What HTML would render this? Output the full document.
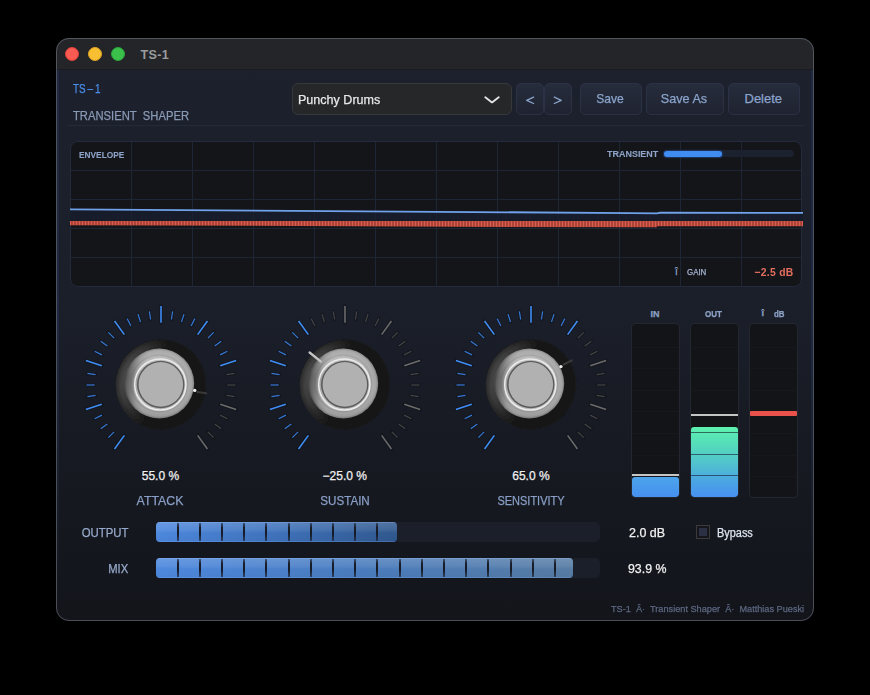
<!DOCTYPE html>
<html><head><meta charset="utf-8"><style>
*{box-sizing:border-box}
html,body{margin:0;padding:0;background:#000;width:870px;height:695px;overflow:hidden;font-family:"Liberation Sans", sans-serif}
.abs{position:absolute}
.t{position:absolute;white-space:nowrap;line-height:1;-webkit-text-stroke:0.25px currentColor}
.btn{position:absolute;top:83px;height:32px;border-radius:5px;border:1px solid #2c3245;background:linear-gradient(180deg,#272c3c 0%,#1f2331 100%)}
.meter{position:absolute;top:323px;height:175px;width:49px;border-radius:4px;background:#121418;border:1px solid #23272f;overflow:hidden}
</style></head><body>
<div class="abs" style="left:56px;top:38px;width:758px;height:583px;border-radius:13px;overflow:hidden;background:linear-gradient(180deg,#1c212d 0%,#1b1f2a 45%,#15181f 80%,#13151b 100%);">
 <div class="abs" style="left:0;top:0;width:758px;height:32px;background:#232528;border-bottom:1px solid #1b1c1e"></div>
 <div class="abs" style="left:1px;top:32px;width:2px;height:520px;background:linear-gradient(180deg,#1f2a42 0%,#1e2840 50%,rgba(30,40,64,0) 100%)"></div>
 <div class="abs" style="right:1px;top:32px;width:2px;height:520px;background:linear-gradient(180deg,#1f2a42 0%,#1e2840 50%,rgba(30,40,64,0) 100%)"></div>
</div>
<div class="abs" style="left:56px;top:38px;width:758px;height:583px;border-radius:13px;border:1px solid rgba(120,125,135,0.55)"></div>
<div class="abs" style="left:65px;top:47px;width:14px;height:14px;border-radius:50%;background:#fb5a52;border:1px solid #e0403a"></div>
<div class="abs" style="left:88px;top:47px;width:14px;height:14px;border-radius:50%;background:#f7bf31;border:1px solid #dfa226"></div>
<div class="abs" style="left:111px;top:47px;width:14px;height:14px;border-radius:50%;background:#3cc04c;border:1px solid #2aa63a"></div>
<div class="t" style="top:49px;font-size:12.6px;color:#9a9b9d;font-weight:bold;letter-spacing:0.35px;left:140.5px;transform-origin:0 50%;-webkit-text-stroke:0;">TS-1</div>
<div class="t" style="top:83px;font-size:12.5px;color:#4a8fec;left:73px;transform-origin:0 50%;transform:scaleX(0.79);">TS<span style="letter-spacing:0">&#8201;</span>&#8211;&#8201;1</div>
<div class="t" style="top:110px;font-size:12.5px;color:#8a9ab6;left:73px;transform-origin:0 50%;transform:scaleX(0.898);">TRANSIENT&nbsp; SHAPER</div>
<div class="abs" style="left:68px;top:125px;width:736px;height:1px;background:#232a37"></div>
<div class="abs" style="left:292px;top:83px;width:220px;height:32px;border-radius:6px;background:#262729;border:1px solid #36383c"></div>
<div class="t" style="top:92.5px;font-size:13px;color:#e8e8e8;left:298px;transform-origin:0 50%;transform:scaleX(0.965);">Punchy Drums</div>
<svg class="abs" style="left:484px;top:95px" width="16" height="10" viewBox="0 0 16 10"><polyline points="1.3,2.3 8,7.4 14.7,2.3" fill="none" stroke="#e4e4e4" stroke-width="1.9" stroke-linecap="round" stroke-linejoin="round"/></svg>
<div class="btn" style="left:516px;width:28px"></div>
<div class="btn" style="left:544px;width:28px"></div>
<div class="btn" style="left:580px;width:62px"></div>
<div class="btn" style="left:646px;width:78px"></div>
<div class="btn" style="left:728px;width:72px"></div>
<svg class="abs" style="left:520px;top:90px" width="50" height="20"><polyline points="13.6,7.1 6.7,10.3 13.6,13.5" fill="none" stroke="#8aa4cc" stroke-width="1.3" stroke-linejoin="round" stroke-linecap="round"/><polyline points="34.3,7.1 41.2,10.3 34.3,13.5" fill="none" stroke="#8aa4cc" stroke-width="1.3" stroke-linejoin="round" stroke-linecap="round"/></svg>
<div class="t" style="top:92px;font-size:13px;color:#8aa4cc;left:409.79999999999995px;width:400px;text-align:center;transform-origin:50% 50%;transform:scaleX(0.93);">Save</div>
<div class="t" style="top:92px;font-size:13px;color:#8aa4cc;left:484.0px;width:400px;text-align:center;transform-origin:50% 50%;transform:scaleX(0.97);">Save As</div>
<div class="t" style="top:92px;font-size:13px;color:#8aa4cc;left:563.3px;width:400px;text-align:center;transform-origin:50% 50%;">Delete</div>
<div class="abs" style="left:70px;top:141px;width:732px;height:146px;border-radius:8px;background:#141519;border:1px solid #222a3b;overflow:hidden">
<svg class="abs" style="left:-1px;top:-1px" width="732" height="146"><line x1="61.5" y1="0" x2="61.5" y2="146" stroke="#1e2535" stroke-width="1"/>
<line x1="122.5" y1="0" x2="122.5" y2="146" stroke="#1e2535" stroke-width="1"/>
<line x1="183.5" y1="0" x2="183.5" y2="146" stroke="#1e2535" stroke-width="1"/>
<line x1="244.5" y1="0" x2="244.5" y2="146" stroke="#1e2535" stroke-width="1"/>
<line x1="305.5" y1="0" x2="305.5" y2="146" stroke="#1e2535" stroke-width="1"/>
<line x1="366.5" y1="0" x2="366.5" y2="146" stroke="#1e2535" stroke-width="1"/>
<line x1="427.5" y1="0" x2="427.5" y2="146" stroke="#1e2535" stroke-width="1"/>
<line x1="488.5" y1="0" x2="488.5" y2="146" stroke="#1e2535" stroke-width="1"/>
<line x1="549.5" y1="0" x2="549.5" y2="146" stroke="#1e2535" stroke-width="1"/>
<line x1="610.5" y1="0" x2="610.5" y2="146" stroke="#1e2535" stroke-width="1"/>
<line x1="671.5" y1="0" x2="671.5" y2="146" stroke="#1e2535" stroke-width="1"/>
<line x1="0" y1="29.5" x2="732" y2="29.5" stroke="#1e2535" stroke-width="1"/>
<line x1="0" y1="58.5" x2="732" y2="58.5" stroke="#1e2535" stroke-width="1"/>
<line x1="0" y1="87.5" x2="732" y2="87.5" stroke="#1e2535" stroke-width="1"/>
<line x1="0" y1="116.5" x2="732" y2="116.5" stroke="#1e2535" stroke-width="1"/></svg>
</div>
<svg class="abs" style="left:0;top:0" width="870" height="300">
<defs><pattern id="hatch" x="0" width="3" height="10" patternUnits="userSpaceOnUse"><rect width="3" height="10" fill="#ad4439"/><rect x="1" width="1" height="10" fill="#dc5c4b"/></pattern></defs>
<polygon points="70,210.2 657,214.1 657,213.5 803,213.8 803,221 70,221" fill="#161c2a"/>
<polygon points="70,221 803,221 803,226.2 657,226.2 657,227.2 500,227 300,226 70,225.2" fill="url(#hatch)"/>
<g stroke="#1e2535" stroke-opacity="0.6" stroke-width="1"><line x1="131.5" y1="211" x2="131.5" y2="221"/><line x1="192.5" y1="211" x2="192.5" y2="221"/><line x1="253.5" y1="211" x2="253.5" y2="221"/><line x1="314.5" y1="211" x2="314.5" y2="221"/><line x1="375.5" y1="211" x2="375.5" y2="221"/><line x1="436.5" y1="211" x2="436.5" y2="221"/><line x1="497.5" y1="211" x2="497.5" y2="221"/><line x1="558.5" y1="211" x2="558.5" y2="221"/><line x1="619.5" y1="211" x2="619.5" y2="221"/><line x1="680.5" y1="211" x2="680.5" y2="221"/><line x1="741.5" y1="211" x2="741.5" y2="221"/></g>
<polyline points="70,209.3 630,213.1 657,213.3 660,212.7 803,212.9" fill="none" stroke="#70a2ec" stroke-width="1.8"/>
</svg>
<div class="t" style="top:150.3px;font-size:9.6px;color:#8da2c6;font-weight:bold;left:78.5px;transform-origin:0 50%;transform:scaleX(0.868);-webkit-text-stroke:0.1px currentColor;">ENVELOPE</div>
<div class="t" style="top:149.2px;font-size:9.8px;color:#8da2c6;font-weight:bold;left:607px;transform-origin:0 50%;transform:scaleX(0.915);-webkit-text-stroke:0.1px currentColor;">TRANSIENT</div>
<div class="abs" style="left:663px;top:150px;width:131px;height:7px;border-radius:4px;background:#1c2130"></div>
<div class="abs" style="left:664px;top:151px;width:58px;height:6px;border-radius:3px;background:#3f8cf2;box-shadow:0 0 0 1px rgba(30,50,90,0.9),0 0 3px rgba(60,140,240,0.4)"></div>
<div class="t" style="top:267px;font-size:10px;color:#8da2c6;left:675px;transform-origin:0 50%;">&#238;</div>
<div class="t" style="top:268px;font-size:8.5px;color:#a5b5d0;left:687.2px;transform-origin:0 50%;transform:scaleX(0.93);">GAIN</div>
<div class="t" style="top:267px;font-size:11px;color:#e66e5f;font-weight:bold;letter-spacing:0.3px;right:76px;transform-origin:100% 50%;transform:scaleX(0.94);-webkit-text-stroke:0;">&#8722;2.5 dB</div>
<svg style="position:absolute;left:70.5px;top:295.0px" width="180" height="180" viewBox="0 0 180 180">
<defs>
<radialGradient id="dd1" cx="0.5" cy="0.5" r="0.5">
<stop offset="0.86" stop-color="#191919"/><stop offset="0.96" stop-color="#171717"/><stop offset="1" stop-color="#18191c" stop-opacity="0"/>
</radialGradient>
<linearGradient id="dl1" x1="0" y1="0.3" x2="1" y2="0.6">
<stop offset="0" stop-color="#3e3e3e" stop-opacity="1"/><stop offset="0.25" stop-color="#2e2e2e" stop-opacity="0.7"/><stop offset="0.5" stop-color="#151515" stop-opacity="0"/>
</linearGradient>
<radialGradient id="ao1" cx="0.5" cy="0.5" r="0.5">
<stop offset="0.7" stop-color="#000" stop-opacity="0.5"/><stop offset="0.85" stop-color="#000" stop-opacity="0.15"/><stop offset="1" stop-color="#000" stop-opacity="0"/>
</radialGradient>
<radialGradient id="mr1" cx="0.5" cy="0.5" r="0.5">
<stop offset="0.72" stop-color="#bcbcbc"/><stop offset="0.78" stop-color="#b0b0b0"/><stop offset="0.81" stop-color="#9c9c9c"/><stop offset="0.85" stop-color="#aaaaaa"/><stop offset="0.94" stop-color="#a2a2a2"/><stop offset="1" stop-color="#7c7c7c"/>
</radialGradient>
<linearGradient id="ml1" x1="0" y1="0.45" x2="1" y2="0.55">
<stop offset="0" stop-color="#000" stop-opacity="0.5"/><stop offset="0.1" stop-color="#000" stop-opacity="0.3"/><stop offset="0.2" stop-color="#000" stop-opacity="0.08"/><stop offset="0.3" stop-color="#000" stop-opacity="0"/>
</linearGradient>
<linearGradient id="mt1" x1="0" y1="0" x2="0" y2="1">
<stop offset="0" stop-color="#fff" stop-opacity="0.10"/><stop offset="0.4" stop-color="#fff" stop-opacity="0"/><stop offset="1" stop-color="#000" stop-opacity="0.06"/>
</linearGradient>
<radialGradient id="lc1" cx="0.5" cy="0.5" r="0.5">
<stop offset="0.78" stop-color="#5a5a5a"/><stop offset="0.9" stop-color="#454545"/><stop offset="1" stop-color="#2c2c2c"/>
</radialGradient>
<linearGradient id="lmg1" x1="0" y1="0.35" x2="1" y2="0.65">
<stop offset="0" stop-color="#fff" stop-opacity="1"/><stop offset="0.3" stop-color="#fff" stop-opacity="0.85"/><stop offset="0.47" stop-color="#fff" stop-opacity="0"/>
</linearGradient>
<mask id="lm1"><rect x="0" y="0" width="180" height="180" fill="url(#lmg1)"/></mask>
<radialGradient id="dr1" cx="0.5" cy="0.5" r="0.5">
<stop offset="0.85" stop-color="#6a6a6a"/><stop offset="0.93" stop-color="#4e4e4e"/><stop offset="1" stop-color="#6a6a6a"/>
</radialGradient>
<filter id="bl1" x="-10%" y="-10%" width="120%" height="120%"><feGaussianBlur stdDeviation="0.7"/></filter>
<filter id="bs1" x="-10%" y="-10%" width="120%" height="120%"><feGaussianBlur stdDeviation="1.1"/></filter>
</defs>
<line x1="53.38" y1="140.40" x2="43.56" y2="153.91" stroke="#0c0e13" stroke-opacity="0.4" stroke-width="3.6" stroke-linecap="round"/>
<line x1="53.38" y1="140.40" x2="43.56" y2="153.91" stroke="#3f8df4" stroke-width="1.6" stroke-linecap="butt"/>
<line x1="43.12" y1="136.88" x2="37.32" y2="142.68" stroke="#0c0e13" stroke-opacity="0.4" stroke-width="3.2" stroke-linecap="round"/>
<line x1="43.12" y1="136.88" x2="37.32" y2="142.68" stroke="#3679d6" stroke-width="1.2" stroke-linecap="butt"/>
<line x1="36.36" y1="128.97" x2="29.73" y2="133.79" stroke="#0c0e13" stroke-opacity="0.4" stroke-width="3.2" stroke-linecap="round"/>
<line x1="36.36" y1="128.97" x2="29.73" y2="133.79" stroke="#3679d6" stroke-width="1.2" stroke-linecap="butt"/>
<line x1="30.93" y1="120.10" x2="23.62" y2="123.82" stroke="#0c0e13" stroke-opacity="0.4" stroke-width="3.2" stroke-linecap="round"/>
<line x1="30.93" y1="120.10" x2="23.62" y2="123.82" stroke="#3679d6" stroke-width="1.2" stroke-linecap="butt"/>
<line x1="30.75" y1="109.25" x2="14.87" y2="114.41" stroke="#0c0e13" stroke-opacity="0.4" stroke-width="3.6" stroke-linecap="round"/>
<line x1="30.75" y1="109.25" x2="14.87" y2="114.41" stroke="#3f8df4" stroke-width="1.6" stroke-linecap="butt"/>
<line x1="24.52" y1="100.37" x2="16.42" y2="101.65" stroke="#0c0e13" stroke-opacity="0.4" stroke-width="3.2" stroke-linecap="round"/>
<line x1="24.52" y1="100.37" x2="16.42" y2="101.65" stroke="#3679d6" stroke-width="1.2" stroke-linecap="butt"/>
<line x1="23.70" y1="90.00" x2="15.50" y2="90.00" stroke="#0c0e13" stroke-opacity="0.4" stroke-width="3.2" stroke-linecap="round"/>
<line x1="23.70" y1="90.00" x2="15.50" y2="90.00" stroke="#3679d6" stroke-width="1.2" stroke-linecap="butt"/>
<line x1="24.52" y1="79.63" x2="16.42" y2="78.35" stroke="#0c0e13" stroke-opacity="0.4" stroke-width="3.2" stroke-linecap="round"/>
<line x1="24.52" y1="79.63" x2="16.42" y2="78.35" stroke="#3679d6" stroke-width="1.2" stroke-linecap="butt"/>
<line x1="30.75" y1="70.75" x2="14.87" y2="65.59" stroke="#0c0e13" stroke-opacity="0.4" stroke-width="3.6" stroke-linecap="round"/>
<line x1="30.75" y1="70.75" x2="14.87" y2="65.59" stroke="#3f8df4" stroke-width="1.6" stroke-linecap="butt"/>
<line x1="30.93" y1="59.90" x2="23.62" y2="56.18" stroke="#0c0e13" stroke-opacity="0.4" stroke-width="3.2" stroke-linecap="round"/>
<line x1="30.93" y1="59.90" x2="23.62" y2="56.18" stroke="#3679d6" stroke-width="1.2" stroke-linecap="butt"/>
<line x1="36.36" y1="51.03" x2="29.73" y2="46.21" stroke="#0c0e13" stroke-opacity="0.4" stroke-width="3.2" stroke-linecap="round"/>
<line x1="36.36" y1="51.03" x2="29.73" y2="46.21" stroke="#3679d6" stroke-width="1.2" stroke-linecap="butt"/>
<line x1="43.12" y1="43.12" x2="37.32" y2="37.32" stroke="#0c0e13" stroke-opacity="0.4" stroke-width="3.2" stroke-linecap="round"/>
<line x1="43.12" y1="43.12" x2="37.32" y2="37.32" stroke="#3679d6" stroke-width="1.2" stroke-linecap="butt"/>
<line x1="53.38" y1="39.60" x2="43.56" y2="26.09" stroke="#0c0e13" stroke-opacity="0.4" stroke-width="3.6" stroke-linecap="round"/>
<line x1="53.38" y1="39.60" x2="43.56" y2="26.09" stroke="#3f8df4" stroke-width="1.6" stroke-linecap="butt"/>
<line x1="59.90" y1="30.93" x2="56.18" y2="23.62" stroke="#0c0e13" stroke-opacity="0.4" stroke-width="3.2" stroke-linecap="round"/>
<line x1="59.90" y1="30.93" x2="56.18" y2="23.62" stroke="#3679d6" stroke-width="1.2" stroke-linecap="butt"/>
<line x1="69.51" y1="26.94" x2="66.98" y2="19.15" stroke="#0c0e13" stroke-opacity="0.4" stroke-width="3.2" stroke-linecap="round"/>
<line x1="69.51" y1="26.94" x2="66.98" y2="19.15" stroke="#3679d6" stroke-width="1.2" stroke-linecap="butt"/>
<line x1="79.63" y1="24.52" x2="78.35" y2="16.42" stroke="#0c0e13" stroke-opacity="0.4" stroke-width="3.2" stroke-linecap="round"/>
<line x1="79.63" y1="24.52" x2="78.35" y2="16.42" stroke="#3679d6" stroke-width="1.2" stroke-linecap="butt"/>
<line x1="90.00" y1="27.70" x2="90.00" y2="11.00" stroke="#0c0e13" stroke-opacity="0.4" stroke-width="3.6" stroke-linecap="round"/>
<line x1="90.00" y1="27.70" x2="90.00" y2="11.00" stroke="#3f8df4" stroke-width="1.6" stroke-linecap="butt"/>
<line x1="100.37" y1="24.52" x2="101.65" y2="16.42" stroke="#0c0e13" stroke-opacity="0.4" stroke-width="3.2" stroke-linecap="round"/>
<line x1="100.37" y1="24.52" x2="101.65" y2="16.42" stroke="#3679d6" stroke-width="1.2" stroke-linecap="butt"/>
<line x1="110.49" y1="26.94" x2="113.02" y2="19.15" stroke="#0c0e13" stroke-opacity="0.4" stroke-width="3.2" stroke-linecap="round"/>
<line x1="110.49" y1="26.94" x2="113.02" y2="19.15" stroke="#3679d6" stroke-width="1.2" stroke-linecap="butt"/>
<line x1="120.10" y1="30.93" x2="123.82" y2="23.62" stroke="#0c0e13" stroke-opacity="0.4" stroke-width="3.2" stroke-linecap="round"/>
<line x1="120.10" y1="30.93" x2="123.82" y2="23.62" stroke="#3679d6" stroke-width="1.2" stroke-linecap="butt"/>
<line x1="126.62" y1="39.60" x2="136.44" y2="26.09" stroke="#0c0e13" stroke-opacity="0.4" stroke-width="3.6" stroke-linecap="round"/>
<line x1="126.62" y1="39.60" x2="136.44" y2="26.09" stroke="#3f8df4" stroke-width="1.6" stroke-linecap="butt"/>
<line x1="136.88" y1="43.12" x2="142.68" y2="37.32" stroke="#0c0e13" stroke-opacity="0.4" stroke-width="3.2" stroke-linecap="round"/>
<line x1="136.88" y1="43.12" x2="142.68" y2="37.32" stroke="#3679d6" stroke-width="1.2" stroke-linecap="butt"/>
<line x1="143.64" y1="51.03" x2="150.27" y2="46.21" stroke="#0c0e13" stroke-opacity="0.4" stroke-width="3.2" stroke-linecap="round"/>
<line x1="143.64" y1="51.03" x2="150.27" y2="46.21" stroke="#3679d6" stroke-width="1.2" stroke-linecap="butt"/>
<line x1="149.07" y1="59.90" x2="156.38" y2="56.18" stroke="#0c0e13" stroke-opacity="0.4" stroke-width="3.2" stroke-linecap="round"/>
<line x1="149.07" y1="59.90" x2="156.38" y2="56.18" stroke="#3679d6" stroke-width="1.2" stroke-linecap="butt"/>
<line x1="149.25" y1="70.75" x2="165.13" y2="65.59" stroke="#0c0e13" stroke-opacity="0.4" stroke-width="3.6" stroke-linecap="round"/>
<line x1="149.25" y1="70.75" x2="165.13" y2="65.59" stroke="#3f8df4" stroke-width="1.6" stroke-linecap="butt"/>
<line x1="155.48" y1="79.63" x2="163.58" y2="78.35" stroke="#0c0e13" stroke-opacity="0.4" stroke-width="3.2" stroke-linecap="round"/>
<line x1="155.48" y1="79.63" x2="163.58" y2="78.35" stroke="#454545" stroke-width="1.2" stroke-linecap="butt"/>
<line x1="156.30" y1="90.00" x2="164.50" y2="90.00" stroke="#0c0e13" stroke-opacity="0.4" stroke-width="3.2" stroke-linecap="round"/>
<line x1="156.30" y1="90.00" x2="164.50" y2="90.00" stroke="#454545" stroke-width="1.2" stroke-linecap="butt"/>
<line x1="155.48" y1="100.37" x2="163.58" y2="101.65" stroke="#0c0e13" stroke-opacity="0.4" stroke-width="3.2" stroke-linecap="round"/>
<line x1="155.48" y1="100.37" x2="163.58" y2="101.65" stroke="#454545" stroke-width="1.2" stroke-linecap="butt"/>
<line x1="149.25" y1="109.25" x2="165.13" y2="114.41" stroke="#0c0e13" stroke-opacity="0.4" stroke-width="3.6" stroke-linecap="round"/>
<line x1="149.25" y1="109.25" x2="165.13" y2="114.41" stroke="#6b6b6b" stroke-width="1.6" stroke-linecap="butt"/>
<line x1="149.07" y1="120.10" x2="156.38" y2="123.82" stroke="#0c0e13" stroke-opacity="0.4" stroke-width="3.2" stroke-linecap="round"/>
<line x1="149.07" y1="120.10" x2="156.38" y2="123.82" stroke="#454545" stroke-width="1.2" stroke-linecap="butt"/>
<line x1="143.64" y1="128.97" x2="150.27" y2="133.79" stroke="#0c0e13" stroke-opacity="0.4" stroke-width="3.2" stroke-linecap="round"/>
<line x1="143.64" y1="128.97" x2="150.27" y2="133.79" stroke="#454545" stroke-width="1.2" stroke-linecap="butt"/>
<line x1="136.88" y1="136.88" x2="142.68" y2="142.68" stroke="#0c0e13" stroke-opacity="0.4" stroke-width="3.2" stroke-linecap="round"/>
<line x1="136.88" y1="136.88" x2="142.68" y2="142.68" stroke="#454545" stroke-width="1.2" stroke-linecap="butt"/>
<line x1="126.62" y1="140.40" x2="136.44" y2="153.91" stroke="#0c0e13" stroke-opacity="0.4" stroke-width="3.6" stroke-linecap="round"/>
<line x1="126.62" y1="140.40" x2="136.44" y2="153.91" stroke="#6b6b6b" stroke-width="1.6" stroke-linecap="butt"/>
<g filter="url(#bl1)">
<circle cx="90.0" cy="89.5" r="46" fill="url(#dd1)"/>
<circle cx="90.0" cy="90.0" r="45.3" fill="url(#lc1)" mask="url(#lm1)"/>
<circle cx="89.3" cy="89.5" r="39" fill="url(#ao1)"/>
</g>
<g filter="url(#bl1)">
<circle cx="88.3" cy="88.5" r="34.9" fill="url(#mr1)"/>
<circle cx="88.3" cy="88.5" r="34.9" fill="url(#ml1)"/>
<circle cx="88.3" cy="88.5" r="34.9" fill="url(#mt1)"/>
</g>
<circle cx="89.3" cy="89.5" r="25.6" fill="none" stroke="#ebebeb" stroke-width="1.5"/>
<circle cx="89.7" cy="89.5" r="23.8" fill="url(#dr1)"/>
<circle cx="89.8" cy="89.4" r="22.3" fill="#b1b1b1"/>
<line x1="126.30" y1="96.90" x2="135.20" y2="98.30" stroke="#3a3a3a" stroke-width="2" stroke-linecap="round"/>
<circle cx="123.70" cy="95.40" r="1.7" fill="#eeeeee"/>
</svg>
<svg style="position:absolute;left:255.0px;top:295.0px" width="180" height="180" viewBox="0 0 180 180">
<defs>
<radialGradient id="dd2" cx="0.5" cy="0.5" r="0.5">
<stop offset="0.86" stop-color="#191919"/><stop offset="0.96" stop-color="#171717"/><stop offset="1" stop-color="#18191c" stop-opacity="0"/>
</radialGradient>
<linearGradient id="dl2" x1="0" y1="0.3" x2="1" y2="0.6">
<stop offset="0" stop-color="#3e3e3e" stop-opacity="1"/><stop offset="0.25" stop-color="#2e2e2e" stop-opacity="0.7"/><stop offset="0.5" stop-color="#151515" stop-opacity="0"/>
</linearGradient>
<radialGradient id="ao2" cx="0.5" cy="0.5" r="0.5">
<stop offset="0.7" stop-color="#000" stop-opacity="0.5"/><stop offset="0.85" stop-color="#000" stop-opacity="0.15"/><stop offset="1" stop-color="#000" stop-opacity="0"/>
</radialGradient>
<radialGradient id="mr2" cx="0.5" cy="0.5" r="0.5">
<stop offset="0.72" stop-color="#bcbcbc"/><stop offset="0.78" stop-color="#b0b0b0"/><stop offset="0.81" stop-color="#9c9c9c"/><stop offset="0.85" stop-color="#aaaaaa"/><stop offset="0.94" stop-color="#a2a2a2"/><stop offset="1" stop-color="#7c7c7c"/>
</radialGradient>
<linearGradient id="ml2" x1="0" y1="0.45" x2="1" y2="0.55">
<stop offset="0" stop-color="#000" stop-opacity="0.5"/><stop offset="0.1" stop-color="#000" stop-opacity="0.3"/><stop offset="0.2" stop-color="#000" stop-opacity="0.08"/><stop offset="0.3" stop-color="#000" stop-opacity="0"/>
</linearGradient>
<linearGradient id="mt2" x1="0" y1="0" x2="0" y2="1">
<stop offset="0" stop-color="#fff" stop-opacity="0.10"/><stop offset="0.4" stop-color="#fff" stop-opacity="0"/><stop offset="1" stop-color="#000" stop-opacity="0.06"/>
</linearGradient>
<radialGradient id="lc2" cx="0.5" cy="0.5" r="0.5">
<stop offset="0.78" stop-color="#5a5a5a"/><stop offset="0.9" stop-color="#454545"/><stop offset="1" stop-color="#2c2c2c"/>
</radialGradient>
<linearGradient id="lmg2" x1="0" y1="0.35" x2="1" y2="0.65">
<stop offset="0" stop-color="#fff" stop-opacity="1"/><stop offset="0.3" stop-color="#fff" stop-opacity="0.85"/><stop offset="0.47" stop-color="#fff" stop-opacity="0"/>
</linearGradient>
<mask id="lm2"><rect x="0" y="0" width="180" height="180" fill="url(#lmg2)"/></mask>
<radialGradient id="dr2" cx="0.5" cy="0.5" r="0.5">
<stop offset="0.85" stop-color="#6a6a6a"/><stop offset="0.93" stop-color="#4e4e4e"/><stop offset="1" stop-color="#6a6a6a"/>
</radialGradient>
<filter id="bl2" x="-10%" y="-10%" width="120%" height="120%"><feGaussianBlur stdDeviation="0.7"/></filter>
<filter id="bs2" x="-10%" y="-10%" width="120%" height="120%"><feGaussianBlur stdDeviation="1.1"/></filter>
</defs>
<line x1="53.38" y1="140.40" x2="43.56" y2="153.91" stroke="#0c0e13" stroke-opacity="0.4" stroke-width="3.6" stroke-linecap="round"/>
<line x1="53.38" y1="140.40" x2="43.56" y2="153.91" stroke="#3f8df4" stroke-width="1.6" stroke-linecap="butt"/>
<line x1="43.12" y1="136.88" x2="37.32" y2="142.68" stroke="#0c0e13" stroke-opacity="0.4" stroke-width="3.2" stroke-linecap="round"/>
<line x1="43.12" y1="136.88" x2="37.32" y2="142.68" stroke="#3679d6" stroke-width="1.2" stroke-linecap="butt"/>
<line x1="36.36" y1="128.97" x2="29.73" y2="133.79" stroke="#0c0e13" stroke-opacity="0.4" stroke-width="3.2" stroke-linecap="round"/>
<line x1="36.36" y1="128.97" x2="29.73" y2="133.79" stroke="#3679d6" stroke-width="1.2" stroke-linecap="butt"/>
<line x1="30.93" y1="120.10" x2="23.62" y2="123.82" stroke="#0c0e13" stroke-opacity="0.4" stroke-width="3.2" stroke-linecap="round"/>
<line x1="30.93" y1="120.10" x2="23.62" y2="123.82" stroke="#3679d6" stroke-width="1.2" stroke-linecap="butt"/>
<line x1="30.75" y1="109.25" x2="14.87" y2="114.41" stroke="#0c0e13" stroke-opacity="0.4" stroke-width="3.6" stroke-linecap="round"/>
<line x1="30.75" y1="109.25" x2="14.87" y2="114.41" stroke="#3f8df4" stroke-width="1.6" stroke-linecap="butt"/>
<line x1="24.52" y1="100.37" x2="16.42" y2="101.65" stroke="#0c0e13" stroke-opacity="0.4" stroke-width="3.2" stroke-linecap="round"/>
<line x1="24.52" y1="100.37" x2="16.42" y2="101.65" stroke="#3679d6" stroke-width="1.2" stroke-linecap="butt"/>
<line x1="23.70" y1="90.00" x2="15.50" y2="90.00" stroke="#0c0e13" stroke-opacity="0.4" stroke-width="3.2" stroke-linecap="round"/>
<line x1="23.70" y1="90.00" x2="15.50" y2="90.00" stroke="#3679d6" stroke-width="1.2" stroke-linecap="butt"/>
<line x1="24.52" y1="79.63" x2="16.42" y2="78.35" stroke="#0c0e13" stroke-opacity="0.4" stroke-width="3.2" stroke-linecap="round"/>
<line x1="24.52" y1="79.63" x2="16.42" y2="78.35" stroke="#3679d6" stroke-width="1.2" stroke-linecap="butt"/>
<line x1="30.75" y1="70.75" x2="14.87" y2="65.59" stroke="#0c0e13" stroke-opacity="0.4" stroke-width="3.6" stroke-linecap="round"/>
<line x1="30.75" y1="70.75" x2="14.87" y2="65.59" stroke="#3f8df4" stroke-width="1.6" stroke-linecap="butt"/>
<line x1="30.93" y1="59.90" x2="23.62" y2="56.18" stroke="#0c0e13" stroke-opacity="0.4" stroke-width="3.2" stroke-linecap="round"/>
<line x1="30.93" y1="59.90" x2="23.62" y2="56.18" stroke="#3679d6" stroke-width="1.2" stroke-linecap="butt"/>
<line x1="36.36" y1="51.03" x2="29.73" y2="46.21" stroke="#0c0e13" stroke-opacity="0.4" stroke-width="3.2" stroke-linecap="round"/>
<line x1="36.36" y1="51.03" x2="29.73" y2="46.21" stroke="#3679d6" stroke-width="1.2" stroke-linecap="butt"/>
<line x1="43.12" y1="43.12" x2="37.32" y2="37.32" stroke="#0c0e13" stroke-opacity="0.4" stroke-width="3.2" stroke-linecap="round"/>
<line x1="43.12" y1="43.12" x2="37.32" y2="37.32" stroke="#3679d6" stroke-width="1.2" stroke-linecap="butt"/>
<line x1="53.38" y1="39.60" x2="43.56" y2="26.09" stroke="#0c0e13" stroke-opacity="0.4" stroke-width="3.6" stroke-linecap="round"/>
<line x1="53.38" y1="39.60" x2="43.56" y2="26.09" stroke="#3f8df4" stroke-width="1.6" stroke-linecap="butt"/>
<line x1="59.90" y1="30.93" x2="56.18" y2="23.62" stroke="#0c0e13" stroke-opacity="0.4" stroke-width="3.2" stroke-linecap="round"/>
<line x1="59.90" y1="30.93" x2="56.18" y2="23.62" stroke="#454545" stroke-width="1.2" stroke-linecap="butt"/>
<line x1="69.51" y1="26.94" x2="66.98" y2="19.15" stroke="#0c0e13" stroke-opacity="0.4" stroke-width="3.2" stroke-linecap="round"/>
<line x1="69.51" y1="26.94" x2="66.98" y2="19.15" stroke="#454545" stroke-width="1.2" stroke-linecap="butt"/>
<line x1="79.63" y1="24.52" x2="78.35" y2="16.42" stroke="#0c0e13" stroke-opacity="0.4" stroke-width="3.2" stroke-linecap="round"/>
<line x1="79.63" y1="24.52" x2="78.35" y2="16.42" stroke="#454545" stroke-width="1.2" stroke-linecap="butt"/>
<line x1="90.00" y1="27.70" x2="90.00" y2="11.00" stroke="#0c0e13" stroke-opacity="0.4" stroke-width="3.6" stroke-linecap="round"/>
<line x1="90.00" y1="27.70" x2="90.00" y2="11.00" stroke="#6b6b6b" stroke-width="1.6" stroke-linecap="butt"/>
<line x1="100.37" y1="24.52" x2="101.65" y2="16.42" stroke="#0c0e13" stroke-opacity="0.4" stroke-width="3.2" stroke-linecap="round"/>
<line x1="100.37" y1="24.52" x2="101.65" y2="16.42" stroke="#454545" stroke-width="1.2" stroke-linecap="butt"/>
<line x1="110.49" y1="26.94" x2="113.02" y2="19.15" stroke="#0c0e13" stroke-opacity="0.4" stroke-width="3.2" stroke-linecap="round"/>
<line x1="110.49" y1="26.94" x2="113.02" y2="19.15" stroke="#454545" stroke-width="1.2" stroke-linecap="butt"/>
<line x1="120.10" y1="30.93" x2="123.82" y2="23.62" stroke="#0c0e13" stroke-opacity="0.4" stroke-width="3.2" stroke-linecap="round"/>
<line x1="120.10" y1="30.93" x2="123.82" y2="23.62" stroke="#454545" stroke-width="1.2" stroke-linecap="butt"/>
<line x1="126.62" y1="39.60" x2="136.44" y2="26.09" stroke="#0c0e13" stroke-opacity="0.4" stroke-width="3.6" stroke-linecap="round"/>
<line x1="126.62" y1="39.60" x2="136.44" y2="26.09" stroke="#6b6b6b" stroke-width="1.6" stroke-linecap="butt"/>
<line x1="136.88" y1="43.12" x2="142.68" y2="37.32" stroke="#0c0e13" stroke-opacity="0.4" stroke-width="3.2" stroke-linecap="round"/>
<line x1="136.88" y1="43.12" x2="142.68" y2="37.32" stroke="#454545" stroke-width="1.2" stroke-linecap="butt"/>
<line x1="143.64" y1="51.03" x2="150.27" y2="46.21" stroke="#0c0e13" stroke-opacity="0.4" stroke-width="3.2" stroke-linecap="round"/>
<line x1="143.64" y1="51.03" x2="150.27" y2="46.21" stroke="#454545" stroke-width="1.2" stroke-linecap="butt"/>
<line x1="149.07" y1="59.90" x2="156.38" y2="56.18" stroke="#0c0e13" stroke-opacity="0.4" stroke-width="3.2" stroke-linecap="round"/>
<line x1="149.07" y1="59.90" x2="156.38" y2="56.18" stroke="#454545" stroke-width="1.2" stroke-linecap="butt"/>
<line x1="149.25" y1="70.75" x2="165.13" y2="65.59" stroke="#0c0e13" stroke-opacity="0.4" stroke-width="3.6" stroke-linecap="round"/>
<line x1="149.25" y1="70.75" x2="165.13" y2="65.59" stroke="#6b6b6b" stroke-width="1.6" stroke-linecap="butt"/>
<line x1="155.48" y1="79.63" x2="163.58" y2="78.35" stroke="#0c0e13" stroke-opacity="0.4" stroke-width="3.2" stroke-linecap="round"/>
<line x1="155.48" y1="79.63" x2="163.58" y2="78.35" stroke="#454545" stroke-width="1.2" stroke-linecap="butt"/>
<line x1="156.30" y1="90.00" x2="164.50" y2="90.00" stroke="#0c0e13" stroke-opacity="0.4" stroke-width="3.2" stroke-linecap="round"/>
<line x1="156.30" y1="90.00" x2="164.50" y2="90.00" stroke="#454545" stroke-width="1.2" stroke-linecap="butt"/>
<line x1="155.48" y1="100.37" x2="163.58" y2="101.65" stroke="#0c0e13" stroke-opacity="0.4" stroke-width="3.2" stroke-linecap="round"/>
<line x1="155.48" y1="100.37" x2="163.58" y2="101.65" stroke="#454545" stroke-width="1.2" stroke-linecap="butt"/>
<line x1="149.25" y1="109.25" x2="165.13" y2="114.41" stroke="#0c0e13" stroke-opacity="0.4" stroke-width="3.6" stroke-linecap="round"/>
<line x1="149.25" y1="109.25" x2="165.13" y2="114.41" stroke="#6b6b6b" stroke-width="1.6" stroke-linecap="butt"/>
<line x1="149.07" y1="120.10" x2="156.38" y2="123.82" stroke="#0c0e13" stroke-opacity="0.4" stroke-width="3.2" stroke-linecap="round"/>
<line x1="149.07" y1="120.10" x2="156.38" y2="123.82" stroke="#454545" stroke-width="1.2" stroke-linecap="butt"/>
<line x1="143.64" y1="128.97" x2="150.27" y2="133.79" stroke="#0c0e13" stroke-opacity="0.4" stroke-width="3.2" stroke-linecap="round"/>
<line x1="143.64" y1="128.97" x2="150.27" y2="133.79" stroke="#454545" stroke-width="1.2" stroke-linecap="butt"/>
<line x1="136.88" y1="136.88" x2="142.68" y2="142.68" stroke="#0c0e13" stroke-opacity="0.4" stroke-width="3.2" stroke-linecap="round"/>
<line x1="136.88" y1="136.88" x2="142.68" y2="142.68" stroke="#454545" stroke-width="1.2" stroke-linecap="butt"/>
<line x1="126.62" y1="140.40" x2="136.44" y2="153.91" stroke="#0c0e13" stroke-opacity="0.4" stroke-width="3.6" stroke-linecap="round"/>
<line x1="126.62" y1="140.40" x2="136.44" y2="153.91" stroke="#6b6b6b" stroke-width="1.6" stroke-linecap="butt"/>
<g filter="url(#bl2)">
<circle cx="90.0" cy="89.5" r="46" fill="url(#dd2)"/>
<circle cx="90.0" cy="90.0" r="45.3" fill="url(#lc2)" mask="url(#lm2)"/>
<circle cx="89.3" cy="89.5" r="39" fill="url(#ao2)"/>
</g>
<g filter="url(#bl2)">
<circle cx="88.3" cy="88.5" r="34.9" fill="url(#mr2)"/>
<circle cx="88.3" cy="88.5" r="34.9" fill="url(#ml2)"/>
<circle cx="88.3" cy="88.5" r="34.9" fill="url(#mt2)"/>
</g>
<circle cx="89.3" cy="89.5" r="25.6" fill="none" stroke="#ebebeb" stroke-width="1.5"/>
<circle cx="89.7" cy="89.5" r="23.8" fill="url(#dr2)"/>
<circle cx="89.8" cy="89.4" r="22.3" fill="#b1b1b1"/>
<line x1="54.60" y1="57.50" x2="65.90" y2="66.60" stroke="#c6c6c6" stroke-width="2.3" stroke-linecap="round"/>
</svg>
<svg style="position:absolute;left:440.5px;top:295.0px" width="180" height="180" viewBox="0 0 180 180">
<defs>
<radialGradient id="dd3" cx="0.5" cy="0.5" r="0.5">
<stop offset="0.86" stop-color="#191919"/><stop offset="0.96" stop-color="#171717"/><stop offset="1" stop-color="#18191c" stop-opacity="0"/>
</radialGradient>
<linearGradient id="dl3" x1="0" y1="0.3" x2="1" y2="0.6">
<stop offset="0" stop-color="#3e3e3e" stop-opacity="1"/><stop offset="0.25" stop-color="#2e2e2e" stop-opacity="0.7"/><stop offset="0.5" stop-color="#151515" stop-opacity="0"/>
</linearGradient>
<radialGradient id="ao3" cx="0.5" cy="0.5" r="0.5">
<stop offset="0.7" stop-color="#000" stop-opacity="0.5"/><stop offset="0.85" stop-color="#000" stop-opacity="0.15"/><stop offset="1" stop-color="#000" stop-opacity="0"/>
</radialGradient>
<radialGradient id="mr3" cx="0.5" cy="0.5" r="0.5">
<stop offset="0.72" stop-color="#bcbcbc"/><stop offset="0.78" stop-color="#b0b0b0"/><stop offset="0.81" stop-color="#9c9c9c"/><stop offset="0.85" stop-color="#aaaaaa"/><stop offset="0.94" stop-color="#a2a2a2"/><stop offset="1" stop-color="#7c7c7c"/>
</radialGradient>
<linearGradient id="ml3" x1="0" y1="0.45" x2="1" y2="0.55">
<stop offset="0" stop-color="#000" stop-opacity="0.5"/><stop offset="0.1" stop-color="#000" stop-opacity="0.3"/><stop offset="0.2" stop-color="#000" stop-opacity="0.08"/><stop offset="0.3" stop-color="#000" stop-opacity="0"/>
</linearGradient>
<linearGradient id="mt3" x1="0" y1="0" x2="0" y2="1">
<stop offset="0" stop-color="#fff" stop-opacity="0.10"/><stop offset="0.4" stop-color="#fff" stop-opacity="0"/><stop offset="1" stop-color="#000" stop-opacity="0.06"/>
</linearGradient>
<radialGradient id="lc3" cx="0.5" cy="0.5" r="0.5">
<stop offset="0.78" stop-color="#5a5a5a"/><stop offset="0.9" stop-color="#454545"/><stop offset="1" stop-color="#2c2c2c"/>
</radialGradient>
<linearGradient id="lmg3" x1="0" y1="0.35" x2="1" y2="0.65">
<stop offset="0" stop-color="#fff" stop-opacity="1"/><stop offset="0.3" stop-color="#fff" stop-opacity="0.85"/><stop offset="0.47" stop-color="#fff" stop-opacity="0"/>
</linearGradient>
<mask id="lm3"><rect x="0" y="0" width="180" height="180" fill="url(#lmg3)"/></mask>
<radialGradient id="dr3" cx="0.5" cy="0.5" r="0.5">
<stop offset="0.85" stop-color="#6a6a6a"/><stop offset="0.93" stop-color="#4e4e4e"/><stop offset="1" stop-color="#6a6a6a"/>
</radialGradient>
<filter id="bl3" x="-10%" y="-10%" width="120%" height="120%"><feGaussianBlur stdDeviation="0.7"/></filter>
<filter id="bs3" x="-10%" y="-10%" width="120%" height="120%"><feGaussianBlur stdDeviation="1.1"/></filter>
</defs>
<line x1="53.38" y1="140.40" x2="43.56" y2="153.91" stroke="#0c0e13" stroke-opacity="0.4" stroke-width="3.6" stroke-linecap="round"/>
<line x1="53.38" y1="140.40" x2="43.56" y2="153.91" stroke="#3f8df4" stroke-width="1.6" stroke-linecap="butt"/>
<line x1="43.12" y1="136.88" x2="37.32" y2="142.68" stroke="#0c0e13" stroke-opacity="0.4" stroke-width="3.2" stroke-linecap="round"/>
<line x1="43.12" y1="136.88" x2="37.32" y2="142.68" stroke="#3679d6" stroke-width="1.2" stroke-linecap="butt"/>
<line x1="36.36" y1="128.97" x2="29.73" y2="133.79" stroke="#0c0e13" stroke-opacity="0.4" stroke-width="3.2" stroke-linecap="round"/>
<line x1="36.36" y1="128.97" x2="29.73" y2="133.79" stroke="#3679d6" stroke-width="1.2" stroke-linecap="butt"/>
<line x1="30.93" y1="120.10" x2="23.62" y2="123.82" stroke="#0c0e13" stroke-opacity="0.4" stroke-width="3.2" stroke-linecap="round"/>
<line x1="30.93" y1="120.10" x2="23.62" y2="123.82" stroke="#3679d6" stroke-width="1.2" stroke-linecap="butt"/>
<line x1="30.75" y1="109.25" x2="14.87" y2="114.41" stroke="#0c0e13" stroke-opacity="0.4" stroke-width="3.6" stroke-linecap="round"/>
<line x1="30.75" y1="109.25" x2="14.87" y2="114.41" stroke="#3f8df4" stroke-width="1.6" stroke-linecap="butt"/>
<line x1="24.52" y1="100.37" x2="16.42" y2="101.65" stroke="#0c0e13" stroke-opacity="0.4" stroke-width="3.2" stroke-linecap="round"/>
<line x1="24.52" y1="100.37" x2="16.42" y2="101.65" stroke="#3679d6" stroke-width="1.2" stroke-linecap="butt"/>
<line x1="23.70" y1="90.00" x2="15.50" y2="90.00" stroke="#0c0e13" stroke-opacity="0.4" stroke-width="3.2" stroke-linecap="round"/>
<line x1="23.70" y1="90.00" x2="15.50" y2="90.00" stroke="#3679d6" stroke-width="1.2" stroke-linecap="butt"/>
<line x1="24.52" y1="79.63" x2="16.42" y2="78.35" stroke="#0c0e13" stroke-opacity="0.4" stroke-width="3.2" stroke-linecap="round"/>
<line x1="24.52" y1="79.63" x2="16.42" y2="78.35" stroke="#3679d6" stroke-width="1.2" stroke-linecap="butt"/>
<line x1="30.75" y1="70.75" x2="14.87" y2="65.59" stroke="#0c0e13" stroke-opacity="0.4" stroke-width="3.6" stroke-linecap="round"/>
<line x1="30.75" y1="70.75" x2="14.87" y2="65.59" stroke="#3f8df4" stroke-width="1.6" stroke-linecap="butt"/>
<line x1="30.93" y1="59.90" x2="23.62" y2="56.18" stroke="#0c0e13" stroke-opacity="0.4" stroke-width="3.2" stroke-linecap="round"/>
<line x1="30.93" y1="59.90" x2="23.62" y2="56.18" stroke="#3679d6" stroke-width="1.2" stroke-linecap="butt"/>
<line x1="36.36" y1="51.03" x2="29.73" y2="46.21" stroke="#0c0e13" stroke-opacity="0.4" stroke-width="3.2" stroke-linecap="round"/>
<line x1="36.36" y1="51.03" x2="29.73" y2="46.21" stroke="#3679d6" stroke-width="1.2" stroke-linecap="butt"/>
<line x1="43.12" y1="43.12" x2="37.32" y2="37.32" stroke="#0c0e13" stroke-opacity="0.4" stroke-width="3.2" stroke-linecap="round"/>
<line x1="43.12" y1="43.12" x2="37.32" y2="37.32" stroke="#3679d6" stroke-width="1.2" stroke-linecap="butt"/>
<line x1="53.38" y1="39.60" x2="43.56" y2="26.09" stroke="#0c0e13" stroke-opacity="0.4" stroke-width="3.6" stroke-linecap="round"/>
<line x1="53.38" y1="39.60" x2="43.56" y2="26.09" stroke="#3f8df4" stroke-width="1.6" stroke-linecap="butt"/>
<line x1="59.90" y1="30.93" x2="56.18" y2="23.62" stroke="#0c0e13" stroke-opacity="0.4" stroke-width="3.2" stroke-linecap="round"/>
<line x1="59.90" y1="30.93" x2="56.18" y2="23.62" stroke="#3679d6" stroke-width="1.2" stroke-linecap="butt"/>
<line x1="69.51" y1="26.94" x2="66.98" y2="19.15" stroke="#0c0e13" stroke-opacity="0.4" stroke-width="3.2" stroke-linecap="round"/>
<line x1="69.51" y1="26.94" x2="66.98" y2="19.15" stroke="#3679d6" stroke-width="1.2" stroke-linecap="butt"/>
<line x1="79.63" y1="24.52" x2="78.35" y2="16.42" stroke="#0c0e13" stroke-opacity="0.4" stroke-width="3.2" stroke-linecap="round"/>
<line x1="79.63" y1="24.52" x2="78.35" y2="16.42" stroke="#3679d6" stroke-width="1.2" stroke-linecap="butt"/>
<line x1="90.00" y1="27.70" x2="90.00" y2="11.00" stroke="#0c0e13" stroke-opacity="0.4" stroke-width="3.6" stroke-linecap="round"/>
<line x1="90.00" y1="27.70" x2="90.00" y2="11.00" stroke="#3f8df4" stroke-width="1.6" stroke-linecap="butt"/>
<line x1="100.37" y1="24.52" x2="101.65" y2="16.42" stroke="#0c0e13" stroke-opacity="0.4" stroke-width="3.2" stroke-linecap="round"/>
<line x1="100.37" y1="24.52" x2="101.65" y2="16.42" stroke="#3679d6" stroke-width="1.2" stroke-linecap="butt"/>
<line x1="110.49" y1="26.94" x2="113.02" y2="19.15" stroke="#0c0e13" stroke-opacity="0.4" stroke-width="3.2" stroke-linecap="round"/>
<line x1="110.49" y1="26.94" x2="113.02" y2="19.15" stroke="#3679d6" stroke-width="1.2" stroke-linecap="butt"/>
<line x1="120.10" y1="30.93" x2="123.82" y2="23.62" stroke="#0c0e13" stroke-opacity="0.4" stroke-width="3.2" stroke-linecap="round"/>
<line x1="120.10" y1="30.93" x2="123.82" y2="23.62" stroke="#3679d6" stroke-width="1.2" stroke-linecap="butt"/>
<line x1="126.62" y1="39.60" x2="136.44" y2="26.09" stroke="#0c0e13" stroke-opacity="0.4" stroke-width="3.6" stroke-linecap="round"/>
<line x1="126.62" y1="39.60" x2="136.44" y2="26.09" stroke="#3f8df4" stroke-width="1.6" stroke-linecap="butt"/>
<line x1="136.88" y1="43.12" x2="142.68" y2="37.32" stroke="#0c0e13" stroke-opacity="0.4" stroke-width="3.2" stroke-linecap="round"/>
<line x1="136.88" y1="43.12" x2="142.68" y2="37.32" stroke="#454545" stroke-width="1.2" stroke-linecap="butt"/>
<line x1="143.64" y1="51.03" x2="150.27" y2="46.21" stroke="#0c0e13" stroke-opacity="0.4" stroke-width="3.2" stroke-linecap="round"/>
<line x1="143.64" y1="51.03" x2="150.27" y2="46.21" stroke="#454545" stroke-width="1.2" stroke-linecap="butt"/>
<line x1="149.07" y1="59.90" x2="156.38" y2="56.18" stroke="#0c0e13" stroke-opacity="0.4" stroke-width="3.2" stroke-linecap="round"/>
<line x1="149.07" y1="59.90" x2="156.38" y2="56.18" stroke="#454545" stroke-width="1.2" stroke-linecap="butt"/>
<line x1="149.25" y1="70.75" x2="165.13" y2="65.59" stroke="#0c0e13" stroke-opacity="0.4" stroke-width="3.6" stroke-linecap="round"/>
<line x1="149.25" y1="70.75" x2="165.13" y2="65.59" stroke="#6b6b6b" stroke-width="1.6" stroke-linecap="butt"/>
<line x1="155.48" y1="79.63" x2="163.58" y2="78.35" stroke="#0c0e13" stroke-opacity="0.4" stroke-width="3.2" stroke-linecap="round"/>
<line x1="155.48" y1="79.63" x2="163.58" y2="78.35" stroke="#454545" stroke-width="1.2" stroke-linecap="butt"/>
<line x1="156.30" y1="90.00" x2="164.50" y2="90.00" stroke="#0c0e13" stroke-opacity="0.4" stroke-width="3.2" stroke-linecap="round"/>
<line x1="156.30" y1="90.00" x2="164.50" y2="90.00" stroke="#454545" stroke-width="1.2" stroke-linecap="butt"/>
<line x1="155.48" y1="100.37" x2="163.58" y2="101.65" stroke="#0c0e13" stroke-opacity="0.4" stroke-width="3.2" stroke-linecap="round"/>
<line x1="155.48" y1="100.37" x2="163.58" y2="101.65" stroke="#454545" stroke-width="1.2" stroke-linecap="butt"/>
<line x1="149.25" y1="109.25" x2="165.13" y2="114.41" stroke="#0c0e13" stroke-opacity="0.4" stroke-width="3.6" stroke-linecap="round"/>
<line x1="149.25" y1="109.25" x2="165.13" y2="114.41" stroke="#6b6b6b" stroke-width="1.6" stroke-linecap="butt"/>
<line x1="149.07" y1="120.10" x2="156.38" y2="123.82" stroke="#0c0e13" stroke-opacity="0.4" stroke-width="3.2" stroke-linecap="round"/>
<line x1="149.07" y1="120.10" x2="156.38" y2="123.82" stroke="#454545" stroke-width="1.2" stroke-linecap="butt"/>
<line x1="143.64" y1="128.97" x2="150.27" y2="133.79" stroke="#0c0e13" stroke-opacity="0.4" stroke-width="3.2" stroke-linecap="round"/>
<line x1="143.64" y1="128.97" x2="150.27" y2="133.79" stroke="#454545" stroke-width="1.2" stroke-linecap="butt"/>
<line x1="136.88" y1="136.88" x2="142.68" y2="142.68" stroke="#0c0e13" stroke-opacity="0.4" stroke-width="3.2" stroke-linecap="round"/>
<line x1="136.88" y1="136.88" x2="142.68" y2="142.68" stroke="#454545" stroke-width="1.2" stroke-linecap="butt"/>
<line x1="126.62" y1="140.40" x2="136.44" y2="153.91" stroke="#0c0e13" stroke-opacity="0.4" stroke-width="3.6" stroke-linecap="round"/>
<line x1="126.62" y1="140.40" x2="136.44" y2="153.91" stroke="#6b6b6b" stroke-width="1.6" stroke-linecap="butt"/>
<g filter="url(#bl3)">
<circle cx="90.0" cy="89.5" r="46" fill="url(#dd3)"/>
<circle cx="90.0" cy="90.0" r="45.3" fill="url(#lc3)" mask="url(#lm3)"/>
<circle cx="89.3" cy="89.5" r="39" fill="url(#ao3)"/>
</g>
<g filter="url(#bl3)">
<circle cx="88.3" cy="88.5" r="34.9" fill="url(#mr3)"/>
<circle cx="88.3" cy="88.5" r="34.9" fill="url(#ml3)"/>
<circle cx="88.3" cy="88.5" r="34.9" fill="url(#mt3)"/>
</g>
<circle cx="89.3" cy="89.5" r="25.6" fill="none" stroke="#ebebeb" stroke-width="1.5"/>
<circle cx="89.7" cy="89.5" r="23.8" fill="url(#dr3)"/>
<circle cx="89.8" cy="89.4" r="22.3" fill="#b1b1b1"/>
<line x1="122.70" y1="69.50" x2="130.90" y2="65.30" stroke="#3a3a3a" stroke-width="2" stroke-linecap="round"/>
<circle cx="119.90" cy="71.60" r="1.7" fill="#eeeeee"/>
</svg>
<div class="t" style="top:470px;font-size:12px;color:#f0f0f0;left:-39.599999999999994px;width:400px;text-align:center;transform-origin:50% 50%;">55.0 %</div>
<div class="t" style="top:470px;font-size:12px;color:#f0f0f0;left:144.8px;width:400px;text-align:center;transform-origin:50% 50%;">&#8722;25.0 %</div>
<div class="t" style="top:470px;font-size:12px;color:#f0f0f0;left:330.9px;width:400px;text-align:center;transform-origin:50% 50%;">65.0 %</div>
<div class="t" style="top:495px;font-size:12.5px;color:#8a9fc6;left:-39.80000000000001px;width:400px;text-align:center;transform-origin:50% 50%;transform:scaleX(0.985);">ATTACK</div>
<div class="t" style="top:495px;font-size:12.5px;color:#8a9fc6;left:144.85000000000002px;width:400px;text-align:center;transform-origin:50% 50%;transform:scaleX(0.93);">SUSTAIN</div>
<div class="t" style="top:495px;font-size:12.5px;color:#8a9fc6;left:330.6px;width:400px;text-align:center;transform-origin:50% 50%;transform:scaleX(0.88);">SENSITIVITY</div>
<div class="t" style="top:310px;font-size:9px;color:#8da2c6;font-weight:bold;left:650.5px;transform-origin:0 50%;">IN</div>
<div class="t" style="top:310px;font-size:9px;color:#8da2c6;font-weight:bold;left:705px;transform-origin:0 50%;transform:scaleX(0.885);">OUT</div>
<div class="t" style="top:309.3px;font-size:9px;color:#8da2c6;font-weight:bold;left:761.6px;transform-origin:0 50%;">&#238;</div>
<div class="t" style="top:310px;font-size:9px;color:#8da2c6;font-weight:bold;left:774px;transform-origin:0 50%;transform:scaleX(0.88);">dB</div>
<div class="meter" style="left:631px"><div class="abs" style="left:0;right:0;top:23px;height:1px;background:#16181e"></div><div class="abs" style="left:0;right:0;top:44px;height:1px;background:#16181e"></div><div class="abs" style="left:0;right:0;top:66px;height:1px;background:#16181e"></div><div class="abs" style="left:0;right:0;top:87px;height:1px;background:#16181e"></div><div class="abs" style="left:0;right:0;top:109px;height:1px;background:#16181e"></div><div class="abs" style="left:0;right:0;top:131px;height:1px;background:#16181e"></div><div class="abs" style="left:0;right:0;top:152px;height:1px;background:#16181e"></div>
 <div class="abs" style="left:0;right:0;top:152.5px;height:20px;border-radius:3px;background:linear-gradient(180deg,#4ca4ea,#4690f1)"></div>
 <div class="abs" style="left:0;right:0;top:149.5px;height:2px;background:linear-gradient(180deg,#aaa,#e0e0e0,#aaa)"></div>
</div>
<div class="meter" style="left:690px"><div class="abs" style="left:0;right:0;top:23px;height:1px;background:#16181e"></div><div class="abs" style="left:0;right:0;top:44px;height:1px;background:#16181e"></div><div class="abs" style="left:0;right:0;top:66px;height:1px;background:#16181e"></div><div class="abs" style="left:0;right:0;top:87px;height:1px;background:#16181e"></div><div class="abs" style="left:0;right:0;top:109px;height:1px;background:#16181e"></div><div class="abs" style="left:0;right:0;top:131px;height:1px;background:#16181e"></div><div class="abs" style="left:0;right:0;top:152px;height:1px;background:#16181e"></div>
 <div class="abs" style="left:0;right:0;top:103px;height:70px;border-radius:3px;background:linear-gradient(180deg,#5df2b0 0%,#55dcba 25%,#52c4cc 50%,#4aa8e0 75%,#4890f2 100%)"></div>
 <div class="abs" style="left:0;right:0;top:108px;height:1px;background:#2f6a5e"></div>
 <div class="abs" style="left:0;right:0;top:130px;height:1px;background:#2e5f6a"></div>
 <div class="abs" style="left:0;right:0;top:151px;height:1px;background:#2c5278"></div>
 <div class="abs" style="left:0;right:0;top:89.5px;height:2px;background:linear-gradient(180deg,#aaa,#e0e0e0,#aaa)"></div>
</div>
<div class="meter" style="left:749px"><div class="abs" style="left:0;right:0;top:23px;height:1px;background:#16181e"></div><div class="abs" style="left:0;right:0;top:44px;height:1px;background:#16181e"></div><div class="abs" style="left:0;right:0;top:66px;height:1px;background:#16181e"></div><div class="abs" style="left:0;right:0;top:87px;height:1px;background:#16181e"></div><div class="abs" style="left:0;right:0;top:109px;height:1px;background:#16181e"></div><div class="abs" style="left:0;right:0;top:131px;height:1px;background:#16181e"></div><div class="abs" style="left:0;right:0;top:152px;height:1px;background:#16181e"></div>
 <div class="abs" style="left:0;right:0;top:87px;height:5px;border-radius:1px;background:#e8524a"></div>
</div>
<div class="t" style="top:527px;font-size:12.5px;color:#97aacb;right:741.6px;transform-origin:100% 50%;transform:scaleX(0.91);">OUTPUT</div>
<div class="t" style="top:563px;font-size:12.5px;color:#97aacb;right:741.6px;transform-origin:100% 50%;transform:scaleX(0.9);">MIX</div>
<div style="position:absolute;left:156px;top:522px;width:444px;height:20px;background:#1b1f2a;border-radius:5px"></div>
<div style="position:absolute;left:156px;top:522px;width:240.5px;height:20px;border-radius:4px;background:linear-gradient(90deg,#4d88de 0%,#3f72bb 50%,#30588e 100%);overflow:hidden">
<div style="position:absolute;inset:0;background:linear-gradient(180deg,rgba(255,255,255,0.16) 0%,rgba(255,255,255,0.08) 40%,rgba(255,255,255,0) 55%,rgba(0,0,0,0.03) 100%)"></div>
<div style="position:absolute;left:0;right:0;top:0;height:1px;background:rgba(160,200,255,0.25)"></div>
<div style="position:absolute;left:0;right:0;bottom:0;height:1px;background:rgba(130,180,255,0.25)"></div>
<div style="position:absolute;left:20.60px;top:1px;width:2px;height:18px;background:linear-gradient(180deg,rgba(24,28,40,0.5) 0%,#1a1e2a 25%,#161a25 60%,rgba(24,28,40,0.6) 100%)"></div><div style="position:absolute;left:42.80px;top:1px;width:2px;height:18px;background:linear-gradient(180deg,rgba(24,28,40,0.5) 0%,#1a1e2a 25%,#161a25 60%,rgba(24,28,40,0.6) 100%)"></div><div style="position:absolute;left:65.00px;top:1px;width:2px;height:18px;background:linear-gradient(180deg,rgba(24,28,40,0.5) 0%,#1a1e2a 25%,#161a25 60%,rgba(24,28,40,0.6) 100%)"></div><div style="position:absolute;left:87.20px;top:1px;width:2px;height:18px;background:linear-gradient(180deg,rgba(24,28,40,0.5) 0%,#1a1e2a 25%,#161a25 60%,rgba(24,28,40,0.6) 100%)"></div><div style="position:absolute;left:109.40px;top:1px;width:2px;height:18px;background:linear-gradient(180deg,rgba(24,28,40,0.5) 0%,#1a1e2a 25%,#161a25 60%,rgba(24,28,40,0.6) 100%)"></div><div style="position:absolute;left:131.60px;top:1px;width:2px;height:18px;background:linear-gradient(180deg,rgba(24,28,40,0.5) 0%,#1a1e2a 25%,#161a25 60%,rgba(24,28,40,0.6) 100%)"></div><div style="position:absolute;left:153.80px;top:1px;width:2px;height:18px;background:linear-gradient(180deg,rgba(24,28,40,0.5) 0%,#1a1e2a 25%,#161a25 60%,rgba(24,28,40,0.6) 100%)"></div><div style="position:absolute;left:176.00px;top:1px;width:2px;height:18px;background:linear-gradient(180deg,rgba(24,28,40,0.5) 0%,#1a1e2a 25%,#161a25 60%,rgba(24,28,40,0.6) 100%)"></div><div style="position:absolute;left:198.20px;top:1px;width:2px;height:18px;background:linear-gradient(180deg,rgba(24,28,40,0.5) 0%,#1a1e2a 25%,#161a25 60%,rgba(24,28,40,0.6) 100%)"></div><div style="position:absolute;left:220.40px;top:1px;width:2px;height:18px;background:linear-gradient(180deg,rgba(24,28,40,0.5) 0%,#1a1e2a 25%,#161a25 60%,rgba(24,28,40,0.6) 100%)"></div>
</div>
<div style="position:absolute;left:156px;top:558px;width:444px;height:20px;background:#1b1f2a;border-radius:5px"></div>
<div style="position:absolute;left:156px;top:558px;width:416.9px;height:20px;border-radius:4px;background:linear-gradient(90deg,#4d88de 0%,#4a7cbd 50%,#577ca4 100%);overflow:hidden">
<div style="position:absolute;inset:0;background:linear-gradient(180deg,rgba(255,255,255,0.16) 0%,rgba(255,255,255,0.08) 40%,rgba(255,255,255,0) 55%,rgba(0,0,0,0.03) 100%)"></div>
<div style="position:absolute;left:0;right:0;top:0;height:1px;background:rgba(160,200,255,0.25)"></div>
<div style="position:absolute;left:0;right:0;bottom:0;height:1px;background:rgba(130,180,255,0.25)"></div>
<div style="position:absolute;left:20.60px;top:1px;width:2px;height:18px;background:linear-gradient(180deg,rgba(24,28,40,0.5) 0%,#1a1e2a 25%,#161a25 60%,rgba(24,28,40,0.6) 100%)"></div><div style="position:absolute;left:42.80px;top:1px;width:2px;height:18px;background:linear-gradient(180deg,rgba(24,28,40,0.5) 0%,#1a1e2a 25%,#161a25 60%,rgba(24,28,40,0.6) 100%)"></div><div style="position:absolute;left:65.00px;top:1px;width:2px;height:18px;background:linear-gradient(180deg,rgba(24,28,40,0.5) 0%,#1a1e2a 25%,#161a25 60%,rgba(24,28,40,0.6) 100%)"></div><div style="position:absolute;left:87.20px;top:1px;width:2px;height:18px;background:linear-gradient(180deg,rgba(24,28,40,0.5) 0%,#1a1e2a 25%,#161a25 60%,rgba(24,28,40,0.6) 100%)"></div><div style="position:absolute;left:109.40px;top:1px;width:2px;height:18px;background:linear-gradient(180deg,rgba(24,28,40,0.5) 0%,#1a1e2a 25%,#161a25 60%,rgba(24,28,40,0.6) 100%)"></div><div style="position:absolute;left:131.60px;top:1px;width:2px;height:18px;background:linear-gradient(180deg,rgba(24,28,40,0.5) 0%,#1a1e2a 25%,#161a25 60%,rgba(24,28,40,0.6) 100%)"></div><div style="position:absolute;left:153.80px;top:1px;width:2px;height:18px;background:linear-gradient(180deg,rgba(24,28,40,0.5) 0%,#1a1e2a 25%,#161a25 60%,rgba(24,28,40,0.6) 100%)"></div><div style="position:absolute;left:176.00px;top:1px;width:2px;height:18px;background:linear-gradient(180deg,rgba(24,28,40,0.5) 0%,#1a1e2a 25%,#161a25 60%,rgba(24,28,40,0.6) 100%)"></div><div style="position:absolute;left:198.20px;top:1px;width:2px;height:18px;background:linear-gradient(180deg,rgba(24,28,40,0.5) 0%,#1a1e2a 25%,#161a25 60%,rgba(24,28,40,0.6) 100%)"></div><div style="position:absolute;left:220.40px;top:1px;width:2px;height:18px;background:linear-gradient(180deg,rgba(24,28,40,0.5) 0%,#1a1e2a 25%,#161a25 60%,rgba(24,28,40,0.6) 100%)"></div><div style="position:absolute;left:242.60px;top:1px;width:2px;height:18px;background:linear-gradient(180deg,rgba(24,28,40,0.5) 0%,#1a1e2a 25%,#161a25 60%,rgba(24,28,40,0.6) 100%)"></div><div style="position:absolute;left:264.80px;top:1px;width:2px;height:18px;background:linear-gradient(180deg,rgba(24,28,40,0.5) 0%,#1a1e2a 25%,#161a25 60%,rgba(24,28,40,0.6) 100%)"></div><div style="position:absolute;left:287.00px;top:1px;width:2px;height:18px;background:linear-gradient(180deg,rgba(24,28,40,0.5) 0%,#1a1e2a 25%,#161a25 60%,rgba(24,28,40,0.6) 100%)"></div><div style="position:absolute;left:309.20px;top:1px;width:2px;height:18px;background:linear-gradient(180deg,rgba(24,28,40,0.5) 0%,#1a1e2a 25%,#161a25 60%,rgba(24,28,40,0.6) 100%)"></div><div style="position:absolute;left:331.40px;top:1px;width:2px;height:18px;background:linear-gradient(180deg,rgba(24,28,40,0.5) 0%,#1a1e2a 25%,#161a25 60%,rgba(24,28,40,0.6) 100%)"></div><div style="position:absolute;left:353.60px;top:1px;width:2px;height:18px;background:linear-gradient(180deg,rgba(24,28,40,0.5) 0%,#1a1e2a 25%,#161a25 60%,rgba(24,28,40,0.6) 100%)"></div><div style="position:absolute;left:375.80px;top:1px;width:2px;height:18px;background:linear-gradient(180deg,rgba(24,28,40,0.5) 0%,#1a1e2a 25%,#161a25 60%,rgba(24,28,40,0.6) 100%)"></div><div style="position:absolute;left:398.00px;top:1px;width:2px;height:18px;background:linear-gradient(180deg,rgba(24,28,40,0.5) 0%,#1a1e2a 25%,#161a25 60%,rgba(24,28,40,0.6) 100%)"></div>
</div>
<div class="t" style="top:527px;font-size:12px;color:#f0f0f0;left:628.6px;transform-origin:0 50%;transform:scaleX(1.04);">2.0 dB</div>
<div class="t" style="top:563px;font-size:12px;color:#f0f0f0;left:628px;transform-origin:0 50%;transform:scaleX(1.03);">93.9 %</div>
<div class="abs" style="left:696px;top:525px;width:14px;height:14px;border:1px solid #3c3b3b;background:#15171d"></div><div class="abs" style="left:699px;top:528px;width:8px;height:8px;background:#2b3045"></div>
<div class="t" style="top:527px;font-size:12px;color:#dde4f0;left:716.5px;transform-origin:0 50%;transform:scaleX(0.91);">Bypass</div>
<div class="t" style="top:603.5px;font-size:9.5px;color:#5c6780;right:66px;transform-origin:100% 50%;transform:scaleX(0.965);">TS-1&nbsp; &#194;&#183;&nbsp; Transient Shaper&nbsp; &#194;&#183;&nbsp; Matthias Pueski</div>
</body></html>
